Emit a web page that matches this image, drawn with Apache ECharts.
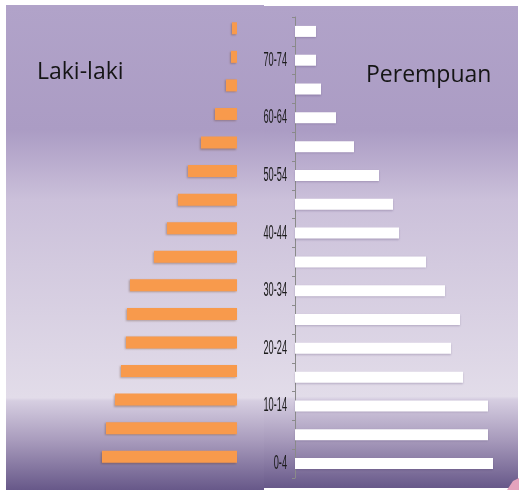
<!DOCTYPE html>
<html>
<head>
<meta charset="utf-8">
<title>Piramida Penduduk</title>
<script src="https://cdn.jsdelivr.net/npm/echarts@6/dist/echarts.min.js"></script>
<style>
  * { margin: 0; padding: 0; }
  html, body { width: 100%; height: 100%; background: #fff; }
  #main { width: 519px; height: 490px; }
</style>
</head>
<body>
<div id="main"></div>
<script>
// kelompok umur, dari bawah ke atas
var ageGroups = ['0-4', '5-9', '10-14', '15-19', '20-24', '25-29', '30-34', '35-39',
  '40-44', '45-49', '50-54', '55-59', '60-64', '65-69', '70-74', '75+'];
// label sumbu yang tampil (setiap dua kelompok)
var tickLabels = ['0-4', '10-14', '20-24', '30-34', '40-44', '50-54', '60-64', '70-74'];
// panjang batang
var lakiLaki = [13.5, 13.1, 12.2, 11.6, 11.1, 11.0, 10.7, 8.3, 7.0, 5.9, 4.9, 3.6, 2.2, 1.1, 0.6, 0.5];
var perempuan = [19.8, 19.3, 19.3, 16.8, 15.6, 16.5, 15.0, 13.1, 10.4, 9.8, 8.4, 5.9, 4.1, 2.6, 2.1, 2.1];

var bgGradient = {
  type: 'linear', x: 0, y: 0, x2: 0, y2: 1,
  colorStops: [
    { offset: 0, color: '#b1a3c9' },
    { offset: 0.258, color: '#ab9cc4' },
    { offset: 0.402, color: '#cbc0da' },
    { offset: 0.536, color: '#d3cadf' },
    { offset: 0.81, color: '#e2dce9' },
    { offset: 0.816, color: '#d6cee1' },
    { offset: 0.897, color: '#a99cbd' },
    { offset: 1, color: '#675889' }
  ]
};

var chart = echarts.init(document.getElementById('main'));
chart.setOption({
  animation: false,
  backgroundColor: '#ffffff',
  title: [
    { text: 'Laki-laki', left: 32, top: 56, textStyle: { fontFamily: 'Open Sans', fontSize: 23, fontWeight: 'normal', color: '#151515' } },
    { text: 'Perempuan', left: 361, top: 59, textStyle: { fontFamily: 'Open Sans', fontSize: 23, fontWeight: 'normal', color: '#151515' } }
  ],
  grid: [
    { left: 37, width: 200, top: 14, bottom: 19 },
    { left: 295, width: 200, top: 17, bottom: 12 }
  ],
  xAxis: [
    { gridIndex: 0, type: 'value', min: 0, max: 20, inverse: true, show: false },
    { gridIndex: 1, type: 'value', min: 0, max: 20, show: false }
  ],
  yAxis: [
    { gridIndex: 0, type: 'category', data: ageGroups, show: false },
    {
      gridIndex: 1, type: 'category', data: ageGroups,
      axisLine: { lineStyle: { color: '#8a8a8a', width: 1 } },
      axisTick: { show: true, interval: 0, length: 3, lineStyle: { color: '#8a8a8a' } },
      axisLabel: { show: false }
    }
  ],
  series: [
    {
      name: 'Laki-laki', type: 'bar', xAxisIndex: 0, yAxisIndex: 0,
      data: lakiLaki, barWidth: 12,
      itemStyle: { color: '#f89a4c', shadowColor: 'rgba(90,50,20,0.35)', shadowBlur: 2, shadowOffsetX: -1, shadowOffsetY: 1 }
    },
    {
      name: 'Perempuan', type: 'bar', xAxisIndex: 1, yAxisIndex: 1,
      data: perempuan, barWidth: 11,
      itemStyle: { color: '#ffffff', shadowColor: 'rgba(60,40,90,0.25)', shadowBlur: 2, shadowOffsetY: 1 }
    }
  ]
});

// latar belakang panel
var graphics = [
  { type: 'rect', z: -10, shape: { x: 6, y: 5, width: 235, height: 485 }, style: { fill: bgGradient } },
  { type: 'rect', z: -10, shape: { x: 241, y: 5, width: 23, height: 485 }, style: { fill: bgGradient } },
  { type: 'rect', z: -10, shape: { x: 264, y: 6, width: 254, height: 482 }, style: { fill: bgGradient } },
  { type: 'polygon', z: 5, shape: { points: [[507, 490], [513, 481], [519, 478], [519, 490]] }, style: { fill: '#e4a3bd' } }
];

// label sumbu yang dipadatkan (tinggi dan sempit seperti aslinya),
// posisinya diambil dari sumbu kategori ECharts
tickLabels.forEach(function (lbl) {
  var p = chart.convertToPixel({ xAxisIndex: 1, yAxisIndex: 1 }, [0, lbl]);
  graphics.push({
    type: 'text', z: 10, x: p[0] - 8, y: p[1], scaleX: 0.46,
    style: {
      text: lbl, align: 'right', verticalAlign: 'middle',
      font: '20px "Liberation Sans", sans-serif', fill: '#1a1a1a'
    }
  });
});
chart.setOption({ graphic: graphics });
</script>
</body>
</html>
